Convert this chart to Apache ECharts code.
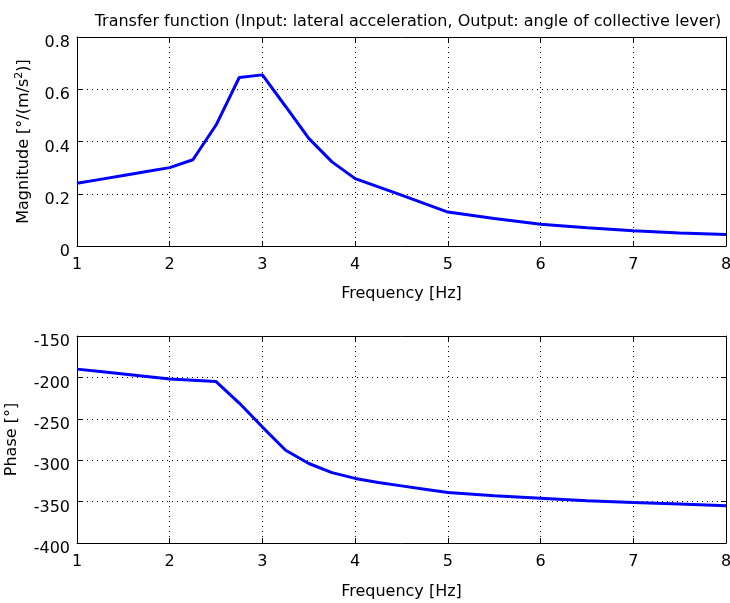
<!DOCTYPE html>
<html>
<head>
<meta charset="utf-8">
<script src="https://cdn.jsdelivr.net/npm/echarts@6/dist/echarts.min.js"></script>
<style>
  html, body { margin: 0; padding: 0; background: #fff; }
  #chart { width: 730px; height: 603px; }
</style>
</head>
<body>
<div id="chart"></div>
<script>
// Frequency response of the collective lever angle to lateral acceleration
const freq = [1, 1.25, 1.5, 1.75, 2, 2.25, 2.5, 2.75, 3, 3.25, 3.5, 3.75, 4, 4.25, 4.5, 4.75, 5, 5.5, 6, 6.5, 7, 7.5, 8];
const magnitude = [0.240, 0.255, 0.270, 0.285, 0.300, 0.330, 0.463, 0.645, 0.655, 0.534, 0.412, 0.322, 0.258, 0.226, 0.195, 0.162, 0.130, 0.105, 0.083, 0.070, 0.058, 0.050, 0.044];
const phase = [-190, -193, -196, -199, -202, -203.5, -205, -231, -260, -288, -304, -315, -322, -327, -331, -335, -339, -343, -346, -349, -351, -353, -355];

const freqTicks = [1, 2, 3, 4, 5, 6, 7, 8];
const magTicks = [0, 0.2, 0.4, 0.6, 0.8];
const phaseTicks = [-400, -350, -300, -250, -200, -150];

const titleText = 'Transfer function (Input: lateral acceleration, Output: angle of collective lever)';
const xName = 'Frequency [Hz]';
const magName = 'Magnitude [°/(m/s{sup|2})]';
const phaseName = 'Phase [°]';

const FONT = 'DejaVu Sans';
const txt = { color: '#000', fontFamily: FONT, fontSize: 16 };

function pairs(ys) { return freq.map((f, i) => [f, ys[i]]); }

const dotted = { show: true, lineStyle: { color: '#000', width: 1, type: [1, 4] } };
const frame = { show: true, onZero: false, lineStyle: { color: '#000', width: 1 } };
const tickIn = { show: true, inside: true, length: 5, lineStyle: { color: '#000' } };

function xAxisPair(gi, nameGap) {
  return [
    {
      gridIndex: gi, type: 'value', min: freqTicks[0], max: freqTicks[freqTicks.length - 1], interval: 1,
      axisLine: frame, axisTick: tickIn, splitLine: dotted,
      axisLabel: Object.assign({ margin: 11 }, txt),
      name: xName, nameLocation: 'middle', nameGap: nameGap, nameTextStyle: txt
    },
    {
      gridIndex: gi, type: 'value', position: 'top', min: freqTicks[0], max: freqTicks[freqTicks.length - 1], interval: 1,
      axisLine: frame, axisTick: tickIn, splitLine: { show: false }, axisLabel: { show: false }
    }
  ];
}

function yAxisPair(gi, ticks, step, name, nameGap, labelFmt) {
  return [
    {
      gridIndex: gi, type: 'value', min: ticks[0], max: ticks[ticks.length - 1], interval: step,
      axisLine: frame, axisTick: tickIn, splitLine: dotted,
      axisLabel: Object.assign({ margin: 7, verticalAlign: 'top', lineHeight: 12, formatter: labelFmt }, txt),
      name: name, nameLocation: 'middle', nameGap: nameGap, nameRotate: 90,
      nameTextStyle: Object.assign({
        rich: {
          sup: { fontFamily: FONT, fontSize: 11, color: '#000', verticalAlign: 'top', padding: [0, 0, 9, 0] }
        }
      }, txt)
    },
    {
      gridIndex: gi, type: 'value', position: 'right', min: ticks[0], max: ticks[ticks.length - 1], interval: step,
      axisLine: frame, axisTick: tickIn, splitLine: { show: false }, axisLabel: { show: false }
    }
  ];
}

const chart = echarts.init(document.getElementById('chart'), null, { renderer: 'canvas' });

chart.setOption({
  backgroundColor: '#fff',
  animation: false,
  title: {
    text: titleText, left: 403, top: 9, textAlign: 'center',
    textStyle: { color: '#000', fontFamily: FONT, fontSize: 16, fontWeight: 'normal' }
  },
  grid: [
    { left: 77, right: 4, top: 37, height: 209, containLabel: false, outerBoundsMode: 'none' },
    { left: 77, right: 4, top: 336, height: 207, containLabel: false, outerBoundsMode: 'none' }
  ],
  xAxis: [...xAxisPair(0, 40), ...xAxisPair(1, 41)],
  yAxis: [
    ...yAxisPair(0, magTicks, 0.2, magName, 43, v => v === 0 ? '0' : v.toFixed(1)),
    ...yAxisPair(1, phaseTicks, 50, phaseName, 57, v => String(v))
  ],
  series: [
    {
      type: 'line', xAxisIndex: 0, yAxisIndex: 0, data: pairs(magnitude),
      showSymbol: false, lineStyle: { color: '#0000ff', width: 3 }
    },
    {
      type: 'line', xAxisIndex: 2, yAxisIndex: 2, data: pairs(phase),
      showSymbol: false, lineStyle: { color: '#0000ff', width: 3 }
    }
  ]
});
</script>
</body>
</html>
